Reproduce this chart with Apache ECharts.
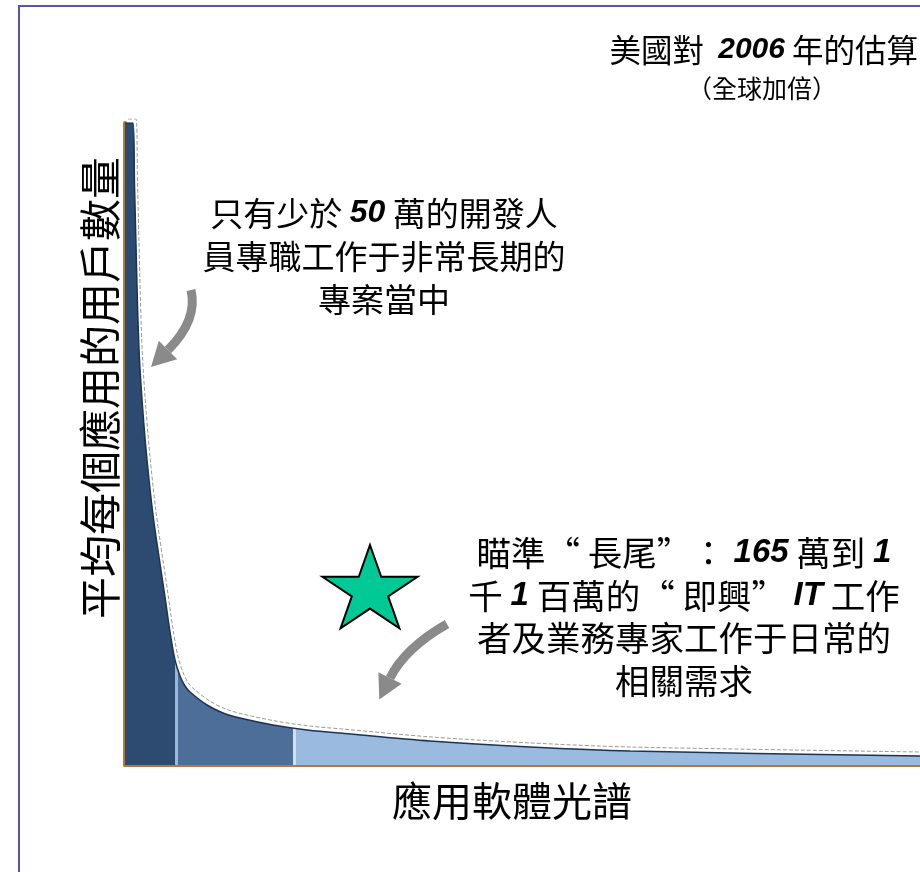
<!DOCTYPE html>
<html>
<head>
<meta charset="utf-8">
<script src="https://cdn.jsdelivr.net/npm/echarts@6/dist/echarts.min.js"></script>
<style>
html,body{margin:0;padding:0;background:#fff;}
#chart{width:920px;height:872px;}
</style>
</head>
<body>
<div id="chart"></div>
<script>
// Long-tail curve: position along the application spectrum vs. average users per application
const spectrumX = [0, 8, 9.5, 11, 12.5, 14.5, 18, 22, 28, 34, 40, 45, 50, 55, 60, 65, 82, 98, 115, 148, 182, 215, 305, 405, 505, 795];
const usersY    = [642, 642, 580, 520, 460, 405, 352, 305, 250, 208, 168, 133, 105, 89, 79, 73, 60, 52, 47, 40, 35, 32, 24, 18, 14, 9];
// Segment boundaries along the spectrum (head / middle / tail)
const segmentBreaks = [50, 168];
const segmentColors = ['#2d4b70', '#4c6e98', '#9bbae0'];

const curve = spectrumX.map((x, i) => [x, usersY[i]]);

const FONT = '"Noto Sans CJK TC", "Noto Sans CJK SC", sans-serif';
const LAT = '"Liberation Sans", Arial, sans-serif';

function starPoints(cx, cy, rx, ry) {
  const pts = [];
  for (let k = 0; k < 10; k++) {
    const a = -Math.PI / 2 + k * Math.PI / 5;
    const f = k % 2 === 0 ? 1 : 0.382;
    pts.push([cx + rx * f * Math.cos(a), cy + ry * f * Math.sin(a)]);
  }
  return pts;
}

function arrow(x1, y1, cx, cy, x2, y2, headLen, headHalf) {
  const dx = x2 - cx, dy = y2 - cy, L = Math.hypot(dx, dy);
  const ux = dx / L, uy = dy / L, px = -uy, py = ux;
  return [
    { type: 'bezierCurve', shape: { x1, y1, cpx1: cx, cpy1: cy, x2, y2 },
      style: { stroke: '#8a8a8a', lineWidth: 9, fill: null }, z: 100 },
    { type: 'polygon', shape: { points: [
        [x2 + px * headHalf, y2 + py * headHalf],
        [x2 + ux * headLen, y2 + uy * headLen],
        [x2 - px * headHalf, y2 - py * headHalf]] },
      style: { fill: '#8a8a8a' }, z: 100 }
  ];
}

const chart = echarts.init(document.getElementById('chart'));

const option = {
  backgroundColor: '#ffffff',
  animation: false,
  grid: [
    { left: 125, right: 0, top: 123, bottom: 107 },
    { left: 128, right: -3, top: 119, bottom: 111 }
  ],
  xAxis: [
    { type: 'value', gridIndex: 0, min: 0, max: 795,
      axisLine: { show: true, onZero: false, lineStyle: { color: '#b07a3e', width: 4 } },
      axisTick: { show: false }, axisLabel: { show: false }, splitLine: { show: false } },
    { type: 'value', gridIndex: 1, min: 0, max: 795, show: false }
  ],
  yAxis: [
    { type: 'value', gridIndex: 0, min: 0, max: 642,
      axisLine: { show: true, onZero: false, lineStyle: { color: '#b07a3e', width: 4 } },
      axisTick: { show: false }, axisLabel: { show: false }, splitLine: { show: false } },
    { type: 'value', gridIndex: 1, min: 0, max: 642, show: false }
  ],
  visualMap: {
    show: false, type: 'piecewise', dimension: 0, seriesIndex: 0,
    pieces: [
      { lt: segmentBreaks[0], color: segmentColors[0] },
      { gte: segmentBreaks[0], lt: segmentBreaks[0] + 3, color: '#9ab6da' },
      { gte: segmentBreaks[0] + 3, lt: segmentBreaks[1], color: segmentColors[1] },
      { gte: segmentBreaks[1], lt: segmentBreaks[1] + 3, color: '#d2e1f2' },
      { gte: segmentBreaks[1] + 3, color: segmentColors[2] }
    ]
  },
  series: [
    { type: 'line', xAxisIndex: 0, yAxisIndex: 0, data: curve, smooth: 0.3,
      symbol: 'none', lineStyle: { width: 0 }, areaStyle: { opacity: 1 }, z: 2 },
    { type: 'line', xAxisIndex: 0, yAxisIndex: 0, data: curve, smooth: 0.3,
      symbol: 'none', lineStyle: { color: '#1c3352', width: 1.5 }, z: 3 },
    { type: 'line', xAxisIndex: 1, yAxisIndex: 1, data: curve, smooth: 0.3,
      symbol: 'none', lineStyle: { color: '#9a9a9a', width: 1, type: [4, 2] }, z: 3 }
  ],
  graphic: [
    // frame
    { type: 'line', shape: { x1: 18, y1: 6, x2: 920, y2: 6 }, style: { stroke: '#5454b4', lineWidth: 2 } },
    { type: 'line', shape: { x1: 19, y1: 5, x2: 19, y2: 872 }, style: { stroke: '#5454b4', lineWidth: 2 } },
    // title
    { type: 'text', x: 918, y: 50, z: 100, style: {
        text: '美國對  {b|2006} 年的估算', align: 'right', verticalAlign: 'middle',
        fontFamily: FONT, fontSize: 31.5, fill: '#000',
        rich: { b: { fontFamily: LAT, fontSize: 30, fontWeight: 'bold', fontStyle: 'italic', fill: '#000' } } } },
    { type: 'text', x: 762, y: 88, z: 100, style: {
        text: '（全球加倍）', align: 'center', verticalAlign: 'middle',
        fontFamily: FONT, fontSize: 25, fill: '#000' } },
    // y axis title
    { type: 'text', x: 100, y: 388, rotation: Math.PI / 2, z: 100, style: {
        text: '平均每個應用的用戶數量', align: 'center', verticalAlign: 'middle',
        fontFamily: FONT, fontSize: 42, fill: '#000' } },
    // x axis title
    { type: 'text', x: 512, y: 801, z: 100, style: {
        text: '應用軟體光譜', align: 'center', verticalAlign: 'middle',
        fontFamily: FONT, fontSize: 40, fill: '#000' } },
    // annotation 1
    { type: 'text', x: 384, y: 256, z: 100, style: {
        text: '只有少於 {b|50} 萬的開發人\n員專職工作于非常長期的\n專案當中',
        align: 'center', verticalAlign: 'middle', fontFamily: FONT, fontSize: 33, lineHeight: 43, fill: '#000',
        rich: { b: { fontFamily: LAT, fontSize: 32, fontWeight: 'bold', fontStyle: 'italic', lineHeight: 43, fill: '#000' } } } },
    // annotation 2
    { type: 'text', x: 684, y: 617, z: 100, style: {
        text: '瞄準“ 長尾”： {b|165} 萬到 {b|1}\n千 {b|1} 百萬的“ 即興” {b|IT} 工作\n者及業務專家工作于日常的\n相關需求',
        align: 'center', verticalAlign: 'middle', fontFamily: FONT, fontSize: 34.5, lineHeight: 42.5, fill: '#000',
        rich: { b: { fontFamily: LAT, fontSize: 33, fontWeight: 'bold', fontStyle: 'italic', lineHeight: 42.5, fill: '#000' } } } },
    // star
    { type: 'polygon', z: 100, shape: { points: starPoints(370, 591, 50, 46) },
      style: { fill: '#00c996', stroke: '#000', lineWidth: 2 } },
    ...arrow(191, 290, 198, 320, 168, 350, 24, 13),
    ...arrow(447, 624, 405, 648, 390, 678, 24, 13)
  ]
};

chart.setOption(option);
</script>
</body>
</html>
